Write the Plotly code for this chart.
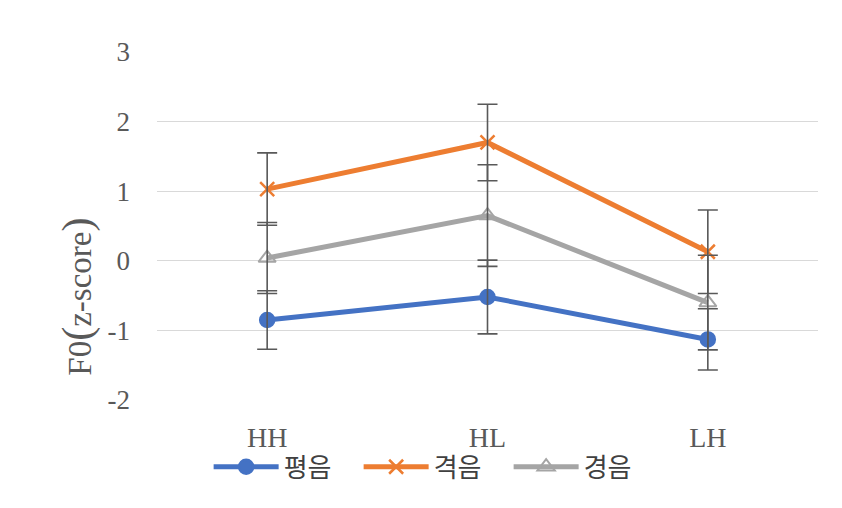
import plotly.graph_objects as go

categories = ["HH", "HL", "LH"]
series_names = ["평음", "격음", "경음"]
plain = [-0.85, -0.52, -1.13]
plain_err = [0.42, 0.53, 0.44]
aspirated = [1.03, 1.70, 0.13]
aspirated_err = [0.52, 0.55, 0.60]
tense = [0.04, 0.65, -0.60]
tense_err = [0.51, 0.73, 0.68]
y_ticks = [3, 2, 1, 0, -1, -2]
y_tick_labels = ["3", "2", "1", "0", "-1", "-2"]
y_title = ("F0<span style='font-size:42px'>(</span>z-score"
           "<span style='font-size:42px'>)</span>")

colors = ["#4472C4", "#ED7D31", "#A5A5A5"]
symbols = ["circle", "x-thin-open", "triangle-up-open"]
sizes = [14, 14, 15]
widths = [2.5, 2.5, 2]
values = [plain, aspirated, tense]
errors = [plain_err, aspirated_err, tense_err]

fig = go.Figure()
for name, vals, col, sym, sz, lw in zip(series_names, values, colors, symbols, sizes, widths):
    fig.add_trace(go.Scatter(
        x=categories, y=vals, name=name, mode="lines+markers",
        line=dict(color=col, width=5),
        marker=dict(symbol=sym, size=sz, color=col,
                    line=dict(color=col, width=lw)),
    ))
for vals, errs in zip(values, errors):
    fig.add_trace(go.Scatter(
        x=categories, y=vals, mode="markers", showlegend=False,
        marker=dict(size=1, opacity=0), hoverinfo="skip",
        error_y=dict(type="data", array=errs, visible=True,
                     color="#595959", thickness=1.6, width=10),
    ))

serif = "Liberation Serif, Noto Sans CJK KR, serif"
fig.add_annotation(
    text=y_title, textangle=-90, showarrow=False,
    xref="paper", yref="paper", x=-0.1195, y=0.297,
    xanchor="center", yanchor="middle",
    font=dict(family=serif, size=33, color="#595959"),
)
fig.update_layout(
    width=842, height=508,
    margin=dict(l=157, r=24, t=52, b=108, autoexpand=False),
    paper_bgcolor="white", plot_bgcolor="white",
    showlegend=True,
    legend=dict(orientation="h", xref="container", yref="container",
                x=0.515, xanchor="center", y=0.081, yanchor="middle",
                bgcolor="rgba(0,0,0,0)",
                font=dict(family="Noto Sans CJK KR", size=26, color="#404040"),
                itemwidth=65, entrywidth=70, entrywidthmode="pixels",
                traceorder="normal"),
    xaxis=dict(range=[-0.5, 2.5], showgrid=False, zeroline=False,
               showline=False, ticks="", ticklabelstandoff=18,
               automargin=False,
               tickfont=dict(family=serif, size=28, color="#595959")),
    yaxis=dict(range=[-2, 3], tickvals=y_ticks, ticktext=y_tick_labels,
               showgrid=True, gridcolor="#D9D9D9", gridwidth=1,
               zeroline=False, showline=False, ticks="",
               ticklabelstandoff=26, automargin=False,
               tickfont=dict(family=serif, size=27, color="#595959")),
)
fig.write_html("out.html")
